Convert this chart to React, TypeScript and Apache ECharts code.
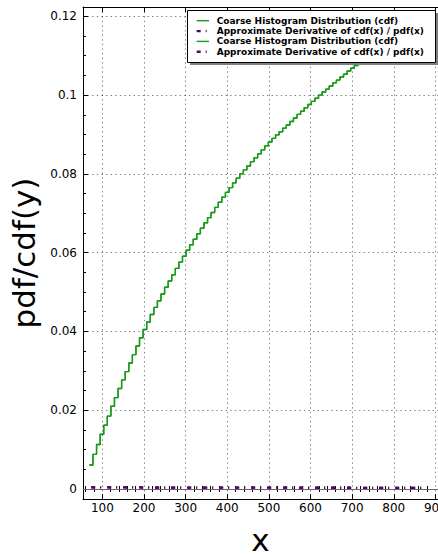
import React, { useEffect, useRef } from "react";
import * as echarts from "echarts";

// Step (bin) edges of the coarse histogram cdf
const binEdges = [
  68.8, 77.4, 86.0, 94.6, 103.2, 111.8, 120.4, 129.0, 137.6, 146.2,
  154.8, 163.4, 172.0, 180.6, 189.2, 197.8, 206.4, 215.0, 223.6, 232.2,
  240.8, 249.4, 258.0, 266.6, 275.2, 283.8, 292.4, 301.0, 309.6, 318.2,
  326.8, 335.4, 344.0, 352.6, 361.2, 369.8, 378.4, 387.0, 395.6, 404.2,
  412.8, 421.4, 430.0, 438.6, 447.2, 455.8, 464.4, 473.0, 481.6, 490.2,
  498.8, 507.4, 516.0, 524.6, 533.2, 541.8, 550.4, 559.0, 567.6, 576.2,
  584.8, 593.4, 602.0, 610.6, 619.2, 627.8, 636.4, 645.0, 653.6, 662.2,
  670.8, 679.4, 688.0, 696.6, 705.2, 713.8, 722.4, 731.0, 739.6, 748.2,
  756.8, 765.4, 774.0, 782.6, 791.2, 799.8, 808.4, 817.0, 825.6, 834.2,
  842.8, 851.4, 860.0, 868.6, 877.2, 885.8,
];

// cdf value for each bin
const cdfValues = [
  0.0061, 0.0088, 0.0113, 0.0139, 0.0162, 0.0185, 0.021, 0.0232, 0.0255, 0.0277,
  0.0298, 0.032, 0.0341, 0.0363, 0.0384, 0.0405, 0.0424, 0.0443, 0.0461, 0.0478,
  0.0495, 0.0512, 0.0528, 0.0544, 0.056, 0.0576, 0.0591, 0.0606, 0.062, 0.0634,
  0.0648, 0.0662, 0.0676, 0.0689, 0.0702, 0.0715, 0.0728, 0.0741, 0.0753, 0.0765,
  0.0777, 0.0789, 0.08, 0.081, 0.082, 0.0831, 0.0841, 0.0851, 0.0861, 0.0871,
  0.0881, 0.089, 0.0899, 0.0907, 0.0916, 0.0924, 0.0933, 0.0942, 0.0951, 0.0959,
  0.0968, 0.0976, 0.0984, 0.0992, 0.1, 0.1008, 0.1015, 0.1023, 0.1031, 0.1038,
  0.1046, 0.1053, 0.1061, 0.1068, 0.1075, 0.1082, 0.1089, 0.1096, 0.1102, 0.1109,
  0.1115, 0.1121, 0.1128, 0.1134, 0.114, 0.1146, 0.1152, 0.1158, 0.1163, 0.1169,
  0.1175, 0.118, 0.1186, 0.1191, 0.1196,
];

// Approximate derivative (pdf)
const derivX = [
  73, 108, 142, 177, 211, 246, 280, 315, 349, 384, 418, 452,
  487, 521, 556, 590, 624, 659, 693, 728, 762, 797, 831, 866,
];
const derivValues = [
  0.00042, 0.00041, 0.0004, 0.00039, 0.00038, 0.00037, 0.00037, 0.00036,
  0.00035, 0.00035, 0.00034, 0.00034, 0.00033, 0.00033, 0.00032, 0.00032,
  0.00031, 0.00031, 0.00031, 0.0003, 0.0003, 0.0003, 0.00029, 0.00029,
];

const xTickValues = [100, 200, 300, 400, 500, 600, 700, 800, 900];
const xMinorTicks = [
  60, 80, 120, 140, 160, 180, 220, 240, 260, 280, 320, 340, 360, 380, 420, 440,
  460, 480, 520, 540, 560, 580, 620, 640, 660, 680, 720, 740, 760, 780, 820, 840,
  860, 880,
];
const yTickValues = [0, 0.02, 0.04, 0.06, 0.08, 0.1, 0.12];
const yMinorTicks = [
  0.005, 0.01, 0.015, 0.025, 0.03, 0.035, 0.045, 0.05, 0.055, 0.065, 0.07,
  0.075, 0.085, 0.09, 0.095, 0.105, 0.11, 0.115,
];

const seriesNames = [
  "Coarse Histogram Distribution (cdf)",
  "Approximate Derivative of cdf(x) / pdf(x)",
];
// legend rows as drawn (each series was plotted twice)
const legendRows = [seriesNames[0], seriesNames[1], seriesNames[0], seriesNames[1]];

const X_MIN = 53.4;
const X_MAX = 906.3;
const Y_MIN = -0.00254;
const Y_MAX = 0.12236;

const FONT = "DejaVu Sans";
const GREEN = "#1a9a1a";
const PURPLE = "#4b0a5c";
const DERIV_DASH = [4, 5, 1, 6];

export default function App() {
  const ref = useRef<HTMLDivElement>(null);

  useEffect(() => {
    if (!ref.current) return;
    const chart = echarts.init(ref.current, undefined, { renderer: "svg" });

    const cdfData: number[][] = cdfValues.map((v, i) => [binEdges[i], v]);
    cdfData.push([binEdges[binEdges.length - 1], cdfValues[cdfValues.length - 1]]);
    const derivData = derivX.map((x, i) => [x, derivValues[i]]);

    const tickLine = { color: "#000", width: 1 };
    const noLabel = { show: false };
    const noSplit = { show: false };

    const minorX = (position: string) => ({
      type: "value",
      position,
      min: X_MIN,
      max: X_MAX,
      axisLine: { show: false },
      axisTick: { show: true, inside: true, length: 3, customValues: xMinorTicks, lineStyle: tickLine },
      axisLabel: noLabel,
      splitLine: noSplit,
    });

    const cdfSeries = (name: string) => ({
      name,
      type: "line",
      step: "end",
      symbol: "none",
      data: cdfData,
      lineStyle: { color: GREEN, width: 1.4 },
      itemStyle: { color: GREEN },
      z: 2,
    });
    const derivSeries = (name: string, withZero: boolean) => ({
      name,
      type: "line",
      symbol: "none",
      data: derivData,
      lineStyle: { color: PURPLE, width: 2.3, type: DERIV_DASH },
      itemStyle: { color: PURPLE },
      z: 3,
      ...(withZero
        ? {
            markLine: {
              silent: true,
              symbol: "none",
              label: { show: false },
              lineStyle: { color: "#666", width: 1, type: "solid" },
              data: [{ yAxis: 0 }],
              z: 1,
            },
          }
        : {}),
    });

    // legend drawn as graphic (box with offset shadow, 4 rows)
    const LX = 187.5;
    const LY = 10.5;
    const LW = 248;
    const LH = 52;
    const legendGraphic: any[] = [
      {
        type: "rect",
        shape: { x: LX + 2.5, y: LY + 2.5, width: LW, height: LH },
        style: { fill: "#808080" },
        z: 100,
        silent: true,
      },
      {
        type: "rect",
        shape: { x: LX, y: LY, width: LW, height: LH },
        style: { fill: "#fff", stroke: "#000", lineWidth: 1 },
        z: 101,
        silent: true,
      },
    ];
    legendRows.forEach((name, i) => {
      const cy = 20.7 + i * 10.35;
      const isCdf = i % 2 === 0;
      legendGraphic.push({
        type: "line",
        shape: { x1: LX + 9.2, y1: cy, x2: LX + 21.5, y2: cy },
        style: isCdf
          ? { stroke: GREEN, lineWidth: 1.4 }
          : { stroke: PURPLE, lineWidth: 2.3, lineDash: DERIV_DASH },
        z: 102,
        silent: true,
      });
      legendGraphic.push({
        type: "text",
        x: LX + 29.2,
        y: cy,
        style: {
          text: name,
          fontFamily: FONT,
          fontSize: 9,
          fontWeight: "bold",
          fill: "#000",
          align: "left",
          verticalAlign: "middle",
        },
        z: 102,
        silent: true,
      });
    });

    chart.setOption({
      animation: false,
      backgroundColor: "#fff",
      grid: {
        left: 83,
        right: 0,
        top: 7,
        bottom: 57,
        containLabel: false,
        outerBoundsMode: "none",
      },
      xAxis: [
        {
          type: "value",
          position: "bottom",
          min: X_MIN,
          max: X_MAX,
          name: "x",
          nameLocation: "middle",
          nameGap: 25,
          nameTextStyle: { fontFamily: FONT, fontSize: 31, color: "#000" },
          axisLine: { show: true, onZero: false, lineStyle: tickLine },
          axisTick: { show: true, inside: true, length: 5, customValues: xTickValues, lineStyle: tickLine },
          axisLabel: {
            customValues: xTickValues,
            margin: 3,
            fontFamily: FONT,
            fontSize: 12,
            color: "#000",
            hideOverlap: false,
          },
          splitLine: { show: true, lineStyle: { color: "#000", width: 0.5, type: [1.4, 3.2] } },
        },
        minorX("bottom"),
        {
          type: "value",
          position: "top",
          min: X_MIN,
          max: X_MAX,
          axisLine: { show: true, onZero: false, lineStyle: tickLine },
          axisTick: { show: true, inside: true, length: 5, customValues: xTickValues, lineStyle: tickLine },
          axisLabel: noLabel,
          splitLine: noSplit,
        },
        minorX("top"),
      ],
      yAxis: [
        {
          type: "value",
          position: "left",
          min: Y_MIN,
          max: Y_MAX,
          name: "pdf/cdf(y)",
          nameLocation: "middle",
          nameGap: 35,
          nameTextStyle: { fontFamily: FONT, fontSize: 31, color: "#000" },
          axisLine: { show: true, onZero: false, lineStyle: tickLine },
          axisTick: { show: true, inside: true, length: 5, customValues: yTickValues, lineStyle: tickLine },
          axisLabel: {
            customValues: yTickValues,
            margin: 6,
            fontFamily: FONT,
            fontSize: 12,
            color: "#000",
            formatter: (v: number) => String(parseFloat(Number(v).toFixed(4))),
          },
          splitLine: { show: true, lineStyle: { color: "#000", width: 0.5, type: [1.4, 3.2] } },
        },
        {
          type: "value",
          position: "left",
          min: Y_MIN,
          max: Y_MAX,
          axisLine: { show: false },
          axisTick: { show: true, inside: true, length: 3, customValues: yMinorTicks, lineStyle: tickLine },
          axisLabel: noLabel,
          splitLine: noSplit,
        },
      ],
      legend: { show: false },
      graphic: legendGraphic,
      series: [
        cdfSeries(seriesNames[0]),
        derivSeries(seriesNames[1], true),
        cdfSeries(seriesNames[0]),
        derivSeries(seriesNames[1], false),
      ],
    });

    return () => chart.dispose();
  }, []);

  return (
    <div
      ref={ref}
      style={{ position: "absolute", left: 0, top: 0, width: 438, height: 556 }}
    />
  );
}
